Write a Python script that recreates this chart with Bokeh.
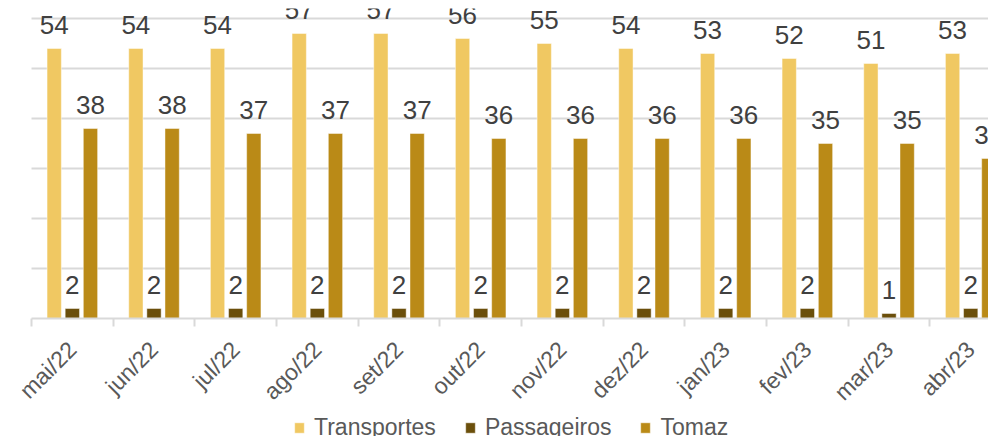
import math
from bokeh.plotting import figure
from bokeh.models import (Range1d, FixedTicker, LinearAxis, Grid, Legend, LegendItem,
                          ColumnDataSource)
from bokeh.core.properties import value
from bokeh.embed import file_html
from bokeh.resources import INLINE

months = ["mai/22", "jun/22", "jul/22", "ago/22", "set/22", "out/22", "nov/22",
          "dez/22", "jan/23", "fev/23", "mar/23", "abr/23"]
transportes = [54, 54, 54, 57, 57, 56, 55, 54, 53, 52, 51, 53]
passageiros = [2, 2, 2, 2, 2, 2, 2, 2, 2, 2, 1, 2]
tomaz = [38, 38, 37, 37, 37, 36, 36, 36, 36, 35, 35, 32]
series_names = ["Transportes", "Passageiros", "Tomaz"]
colors = ["#F0C862", "#6B4F0B", "#BA8A17"]

FONT = "Liberation Sans"
n = len(months)
centres = [i + 0.5 for i in range(n)]

# ~81.67 px per category, category 0 starts 31 px from the left;
# 5 px per unit vertically, value 0 sits 318 px from the top
p = figure(output_backend="svg", toolbar_location=None,
           x_range=Range1d(-0.3796, 11.718), y_range=Range1d(-23.6, 62),
           x_axis_type=None, y_axis_type=None,
           frame_width=988, frame_height=428,
           min_border_left=0, min_border_right=0, min_border_top=8,
           min_border_bottom=0, outline_line_color=None,
           background_fill_color="white", border_fill_color="white")

grid = Grid(dimension=1, ticker=FixedTicker(ticks=[10, 20, 30, 40, 50, 60]),
            grid_line_color="#D9D9D9", grid_line_width=2)
if "cross_bounds" in Grid.properties():
    grid.cross_bounds = (0, n)
p.add_layout(grid)

xaxis = LinearAxis(ticker=FixedTicker(ticks=centres, minor_ticks=list(range(n + 1))),
                   fixed_location=0, bounds=(0, n),
                   major_label_overrides={c: m for c, m in zip(centres, months)},
                   axis_line_color="#D9D9D9", axis_line_width=2,
                   major_tick_line_color=None, major_tick_in=0, major_tick_out=0,
                   minor_tick_line_color="#D9D9D9", minor_tick_line_width=2,
                   minor_tick_in=0, minor_tick_out=8,
                   major_label_orientation=math.pi / 4,
                   major_label_standoff=19,
                   major_label_text_font=FONT,
                   major_label_text_font_size="23px",
                   major_label_text_color="#595959")
p.add_layout(xaxis, "below")

offsets = [-0.222, 0.0, 0.222]
bar_w = 0.175
renderers = []
for vals, off, col in zip([transportes, passageiros, tomaz], offsets, colors):
    src = ColumnDataSource(dict(x=[c + off for c in centres], top=vals,
                                lab=[str(v) for v in vals]))
    r = p.vbar(x="x", top="top", width=bar_w, bottom=0, source=src,
               fill_color=col, line_color="white", line_alpha=0.45, line_width=1)
    renderers.append(r)
    p.text(x="x", y="top", text="lab", source=src, y_offset=-24,
           text_align="center", text_baseline="alphabetic",
           text_font=value(FONT), text_font_size="26px", text_color="#404040")

legend = Legend(items=[LegendItem(label=nm, renderers=[r])
                       for nm, r in zip(series_names, renderers)],
                orientation="horizontal", location=(293, -5),
                glyph_width=12, glyph_height=13, label_standoff=9, spacing=28,
                padding=0, margin=0, border_line_color=None,
                background_fill_alpha=0,
                label_text_font=FONT, label_text_font_size="23px",
                label_text_color="#595959")
p.add_layout(legend, "center")

open("out.html", "w").write(file_html(p, INLINE))
